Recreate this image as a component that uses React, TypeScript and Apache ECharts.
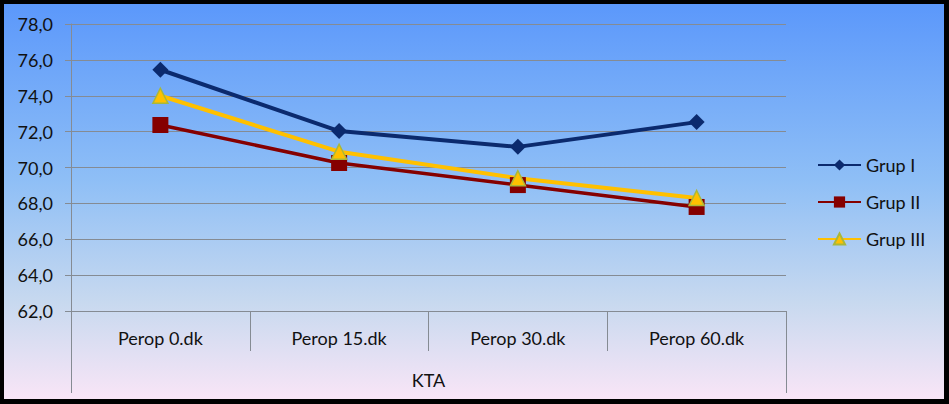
import React, { useEffect, useRef } from "react";
import * as echarts from "echarts";

const categories = ["Perop 0.dk", "Perop 15.dk", "Perop 30.dk", "Perop 60.dk"];
const groupLabel = "KTA";
const grupI = [75.45, 72.03, 71.15, 72.53];
const grupII = [72.37, 70.25, 69.02, 67.8];
const grupIII = [74.0, 70.88, 69.4, 68.3];
const seriesNames = ["Grup I", "Grup II", "Grup III"];

const FONT = "Lato";

export default function App() {
  const ref = useRef<HTMLDivElement>(null);
  useEffect(() => {
    if (!ref.current) return;
    const chart = echarts.init(ref.current, undefined, { renderer: "svg" });
    const gray = "#858b93";
    chart.setOption({
      animation: false,
      backgroundColor: new echarts.graphic.LinearGradient(0, 0, 0, 1, [
        { offset: 0, color: "#5a97fb" },
        { offset: 0.45, color: "#8fbff6" },
        { offset: 0.75, color: "#c8d9ef" },
        { offset: 1, color: "#fbe6f7" },
      ]),
      textStyle: { fontFamily: FONT },
      grid: { left: 71, right: 163, top: 24, bottom: 93, containLabel: false },
      legend: {
        orient: "vertical",
        left: 812,
        top: 151,
        itemWidth: 43,
        itemHeight: 14,
        itemGap: 19,
        textStyle: { fontFamily: FONT, fontSize: 18, color: "#111" },
        data: seriesNames,
      },
      xAxis: {
        type: "category",
        data: categories,
        boundaryGap: true,
        name: groupLabel,
        nameLocation: "middle",
        nameGap: 60,
        nameTextStyle: { fontFamily: FONT, fontSize: 18, color: "#111" },
        axisLine: { show: true, lineStyle: { color: gray, width: 1 } },
        axisTick: { show: true, interval: 0, length: 40, alignWithLabel: false, lineStyle: { color: gray } },
        axisLabel: { interval: 0, margin: 18, fontFamily: FONT, fontSize: 18, color: "#111" },
        splitLine: { show: false },
      },
      yAxis: {
        type: "value",
        min: 62,
        max: 78,
        interval: 2,
        axisLine: { show: true, lineStyle: { color: gray, width: 1 } },
        axisTick: { show: true, length: 6, lineStyle: { color: gray } },
        axisLabel: {
          margin: 18,
          fontFamily: FONT,
          fontSize: 18,
          color: "#111",
          formatter: (v: number) => v.toFixed(1).replace(".", ","),
        },
        splitLine: { show: true, lineStyle: { color: gray, width: 1 } },
      },
      series: [
        {
          name: seriesNames[0],
          type: "line",
          data: grupI,
          symbol: "diamond",
          symbolSize: 16,
          lineStyle: { color: "#0b2a6e", width: 4 },
          itemStyle: { color: "#0b2a6e" },
        },
        {
          name: seriesNames[1],
          type: "line",
          data: grupII,
          symbol: "rect",
          symbolSize: 16,
          lineStyle: { color: "#850000", width: 3.5 },
          itemStyle: { color: "#850000" },
        },
        {
          name: seriesNames[2],
          type: "line",
          data: grupIII,
          symbol: "triangle",
          symbolSize: 15,
          lineStyle: { color: "#ffc000", width: 4 },
          itemStyle: { color: "#ffc000", borderColor: "#a9b83a", borderWidth: 1.5 },
        },
      ],
      graphic: [
        { type: "line", shape: { x1: 71.5, y1: 311, x2: 71.5, y2: 393 }, style: { stroke: gray, lineWidth: 1 } },
        { type: "line", shape: { x1: 786.5, y1: 311, x2: 786.5, y2: 393 }, style: { stroke: gray, lineWidth: 1 } },
        {
          type: "rect",
          shape: { x: 1.5, y: 1.5, width: 945, height: 400 },
          style: { fill: "none", stroke: "#000", lineWidth: 5 },
          z: 100,
        },
      ],
    });
    return () => chart.dispose();
  }, []);
  return (
    <div style={{ position: "fixed", left: 0, top: 0, width: 949, height: 404 }}>
      <div ref={ref} style={{ width: 949, height: 404 }} />
    </div>
  );
}
